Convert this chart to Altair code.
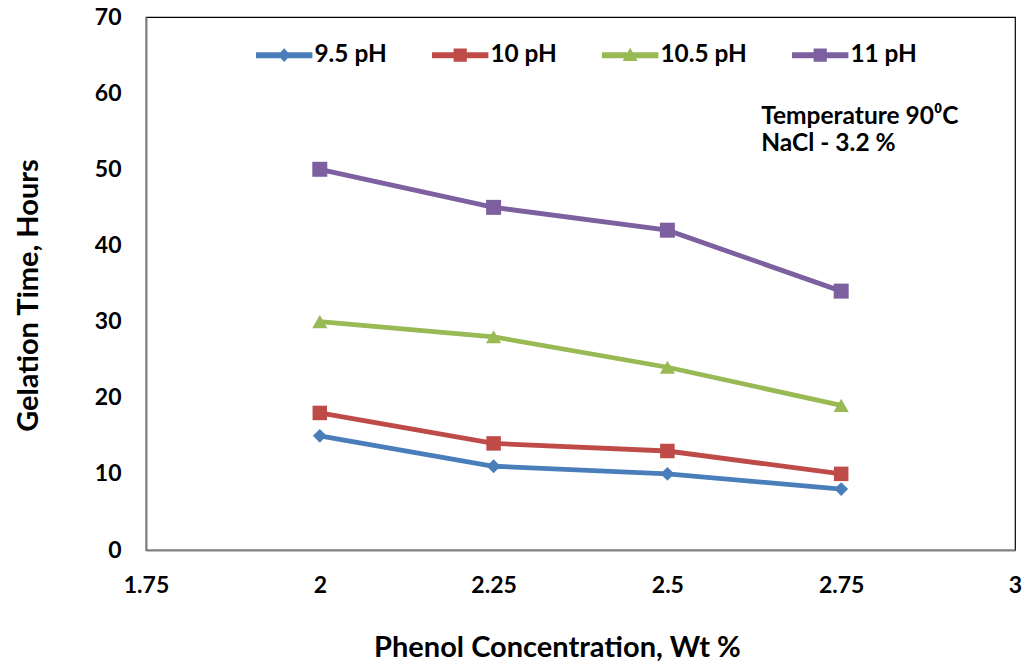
import altair as alt
import pandas as pd

# Gelation time (hours) against phenol concentration (wt %), one series per pH
phenol = [2.0, 2.25, 2.5, 2.75]
series_names = ["9.5 pH", "10 pH", "10.5 pH", "11 pH"]
gel_95 = [15, 11, 10, 8]
gel_10 = [18, 14, 13, 10]
gel_105 = [30, 28, 24, 19]
gel_11 = [50, 45, 42, 34]

colors = ["#4A7EBB", "#BE4B48", "#98B954", "#7D60A0"]
marker_shapes = ["diamond", "square", "triangle-up", "square"]
marker_sizes = [190, 210, 230, 225]

# legend glyphs: a short line segment with the series marker on it
bar = "M-4.7,-0.5 H4.7 V0.5 H-4.7 Z "
legend_shapes = [
    bar + "M0,-1.15 L1.05,0 L0,1.15 L-1.05,0 Z",
    bar + "M-1.1,-1.1 H1.1 V1.1 H-1.1 Z",
    bar + "M0,-1.25 L1.25,0.95 L-1.25,0.95 Z",
    bar + "M-1.1,-1.1 H1.1 V1.1 H-1.1 Z",
]
# left edge of each legend entry, in pixels from the plot's left side
legend_x = [108, 284, 454, 644]

note_lines = ["Temperature 90\u2070C", "NaCl - 3.2 %"]
note_x = [2.635, 2.635]
note_y = [56.0, 52.4]

rows = []
for name, vals in zip(series_names, [gel_95, gel_10, gel_105, gel_11]):
    for x, y in zip(phenol, vals):
        rows.append({"phenol": x, "hours": y, "series": name})
df = pd.DataFrame(rows)
notes = pd.DataFrame({"text": note_lines, "x": note_x, "y": note_y})

x_scale = alt.Scale(domain=[1.75, 3.0], nice=False, zero=False)
y_scale = alt.Scale(domain=[0, 70], nice=False)

x_enc = alt.X(
    "phenol:Q",
    scale=x_scale,
    axis=alt.Axis(
        values=[1.75, 2.0, 2.25, 2.5, 2.75, 3.0],
        format="~g",
        title="Phenol Concentration, Wt %",
        titleX=411,
        titleY=106,
        titleAlign="center",
        titleBaseline="alphabetic",
        labelPadding=24,
    ),
)
y_enc = alt.Y(
    "hours:Q",
    scale=y_scale,
    axis=alt.Axis(
        values=list(range(0, 71, 10)),
        title="Gelation Time, Hours",
        titleX=-109,
        titleY=278,
        titleAngle=-90,
        titleAlign="center",
        titleBaseline="alphabetic",
        labelPadding=25,
    ),
)

lines = alt.Chart(df).mark_line(strokeWidth=4.8).encode(
    x=x_enc,
    y=y_enc,
    stroke=alt.Stroke("series:N", scale=alt.Scale(domain=series_names, range=colors), legend=None),
    detail="series:N",
)

# one point layer per series, each with its own marker shape and colour
marker_layers = []
for name, shp, size, col in zip(series_names, marker_shapes, marker_sizes, colors):
    marker_layers.append(
        alt.Chart(df)
        .transform_filter(alt.datum.series == name)
        .mark_point(filled=True, opacity=1, shape=shp, size=size, color=col)
        .encode(x="phenol:Q", y="hours:Q")
    )

# one empty layer per series that only carries that series' legend entry
legend_layers = []
for i, (name, path, col) in enumerate(zip(series_names, legend_shapes, colors)):
    legend_layers.append(
        alt.Chart(df)
        .transform_filter("false")
        .mark_point(filled=True, opacity=1, color=col)
        .encode(
            x="phenol:Q",
            y="hours:Q",
            shape=alt.Shape(
                "series:N",
                scale=alt.Scale(domain=[name], range=[path]),
                legend=alt.Legend(
                    title=None,
                    orient="none",
                    legendX=legend_x[i],
                    legendY=26,
                    symbolSize=144,
                    symbolStrokeWidth=0,
                    symbolFillColor=col,
                    symbolOffset=18,
                    labelOffset=18,
                    labelFont="Lato",
                    labelFontSize=24.4,
                    labelFontWeight="bold",
                    labelColor="#000000",
                ),
            ),
        )
    )

note_text = alt.Chart(notes).mark_text(
    align="left",
    baseline="alphabetic",
    font="Lato",
    fontSize=24.5,
    fontWeight="bold",
    color="#000000",
).encode(x="x:Q", y="y:Q", text="text:N")

chart = (
    alt.layer(lines, *marker_layers, *legend_layers, note_text)
    .resolve_scale(shape="independent")
    .properties(
        width=869,
        height=533,
        autosize=alt.AutoSizeParams(type="none"),
        padding={"left": 146, "top": 17, "right": 11, "bottom": 114},
        background="#FFFFFF",
    )
    .configure_view(stroke="#000000", strokeWidth=1.2)
    .configure_axis(
        grid=False,
        ticks=False,
        domainColor="#808080",
        domainWidth=2,
        labelFont="Lato",
        labelFontSize=23,
        labelFontWeight="bold",
        labelColor="#000000",
        labelOverlap=False,
        labelFlush=False,
        labelBound=False,
        titleFont="Lato",
        titleFontSize=29,
        titleFontWeight="bold",
        titleColor="#000000",
    )
)

chart.save("out.html", embed_options={"renderer": "svg", "actions": False})
